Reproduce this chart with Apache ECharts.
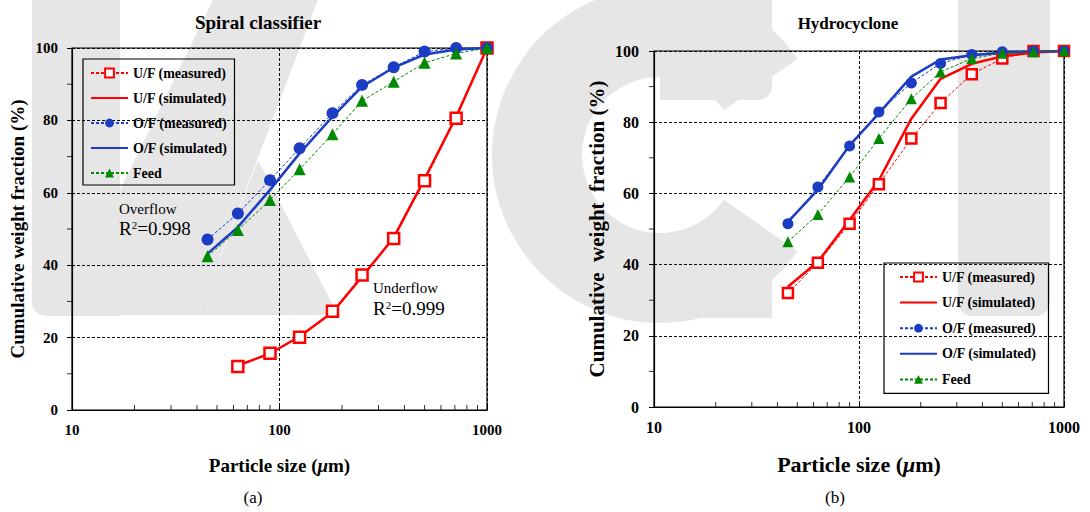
<!DOCTYPE html>
<html>
<head>
<meta charset="utf-8">
<script src="https://cdn.jsdelivr.net/npm/echarts@6/dist/echarts.min.js"></script>
<style>
html,body{margin:0;padding:0;background:#fff;}
#c{width:1090px;height:512px;}
</style>
</head>
<body>
<div id="c"></div>
<script>
// ---- data ----
const sizes = [45, 63, 90, 125, 180, 250, 355, 500, 710, 1000];
const xMinorTickValues = [20, 30, 40, 50, 60, 70, 80, 90, 200, 300, 400, 500, 600, 700, 800, 900];
const yMinorTickValues = [10, 30, 50, 70, 90];
const seriesNames = ['U/F (measured)', 'U/F (simulated)', 'O/F (measured)', 'O/F (simulated)', 'Feed'];

// (a) Spiral classifier
const scUFmeas = [null, 12.0, 15.7, 20.1, 27.3, 37.3, 47.4, 63.3, 80.6, 100];
const scUFsim  = [null, 12.3, 15.6, 20.3, 27.0, 36.8, 47.6, 63.8, 81.0, 100];
const scOFmeas = [47.1, 54.3, 63.5, 72.3, 82.0, 89.8, 94.7, 99.0, 100, 100];
const scOFsim  = [43.2, 50.5, 60.8, 70.9, 81.0, 89.3, 94.6, 98.2, 99.6, 100];
const scFeed   = [42.5, 49.7, 58.0, 66.5, 76.2, 85.4, 90.7, 95.9, 98.5, 100];

// (b) Hydrocyclone
const hcUFmeas = [32.0, 40.5, 51.5, 62.6, 75.4, 85.4, 93.5, 97.9, 100, 100];
const hcUFsim  = [33.8, 40.8, 52.5, 63.7, 81.0, 92.2, 96.4, 98.5, 99.6, 100];
const hcOFmeas = [51.5, 61.8, 73.3, 82.9, 91.0, 96.5, 99.0, 99.8, 100, 100];
const hcOFsim  = [52.0, 61.0, 73.5, 82.5, 92.8, 97.6, 98.8, 99.5, 99.8, 100];
const hcFeed   = [46.4, 54.1, 64.6, 75.4, 86.6, 94.1, 97.9, 99.4, 99.8, 100];

// ---- styling ----
const SERIF = '"Liberation Serif", "DejaVu Serif", serif';
const RED = '#ff0000', BLUE = '#1c3cc4', GREEN = '#008a00';
const WM = '#e6e6e6';   // light grey background watermark

function pairs(vals) {
  const out = [];
  vals.forEach((v, i) => { if (v !== null) out.push([sizes[i], v]); });
  return out;
}

function makeSeries(idx, d, msize) {
  const common = { xAxisIndex: idx, yAxisIndex: idx, clip: false, animation: false };
  return [
    Object.assign({}, common, {
      name: seriesNames[0], type: 'line', data: pairs(d[0]),
      symbol: 'rect', symbolSize: msize - 1,
      lineStyle: { color: RED, width: 1, type: [3, 2] },
      itemStyle: { color: '#fff', borderColor: RED, borderWidth: 2.5 }, z: 3
    }),
    Object.assign({}, common, {
      name: seriesNames[1], type: 'line', data: pairs(d[1]),
      symbol: 'none', showSymbol: false,
      lineStyle: { color: RED, width: 2.5, type: 'solid' },
      itemStyle: { color: RED }, z: 2
    }),
    Object.assign({}, common, {
      name: seriesNames[2], type: 'line', data: pairs(d[2]),
      symbol: 'circle', symbolSize: msize,
      lineStyle: { color: BLUE, width: 1, type: [3, 2] },
      itemStyle: { color: BLUE }, z: 3
    }),
    Object.assign({}, common, {
      name: seriesNames[3], type: 'line', data: pairs(d[3]),
      symbol: 'none', showSymbol: false,
      lineStyle: { color: BLUE, width: 2.5, type: 'solid' },
      itemStyle: { color: BLUE }, z: 2
    }),
    Object.assign({}, common, {
      name: seriesNames[4], type: 'line', data: pairs(d[4]),
      symbol: 'triangle', symbolSize: msize,
      lineStyle: { color: GREEN, width: 1, type: [3, 2] },
      itemStyle: { color: GREEN }, z: 3
    }),
    // minor ticks of the log x axis (inside, pointing up)
    Object.assign({}, common, {
      name: 'xminor' + idx, type: 'scatter', silent: true, z: 1,
      data: xMinorTickValues.map(v => [v, 0]),
      symbol: 'rect', symbolSize: [1, 5], symbolOffset: [0, -2.5],
      itemStyle: { color: '#000' }
    }),
    // minor ticks of the y axis (outside, pointing left)
    Object.assign({}, common, {
      name: 'yminor' + idx, type: 'scatter', silent: true, z: 1,
      data: yMinorTickValues.map(v => [10, v]),
      symbol: 'rect', symbolSize: [5, 1], symbolOffset: [-2.5, 0],
      itemStyle: { color: '#000' }
    })
  ];
}

function xAxisCfg(idx, labelSize, nameSize, gap) {
  return {
    type: 'log', logBase: 10, min: 10, max: 1000, gridIndex: idx,
    name: 'Particle size ({i|μ}m)', nameLocation: 'middle', nameGap: gap,
    nameTextStyle: { fontFamily: SERIF, fontWeight: 'bold', fontSize: nameSize, color: '#000',
      rich: { i: { fontFamily: SERIF, fontWeight: 'bold', fontStyle: 'italic', fontSize: nameSize, color: '#000' } } },
    axisLine: { show: true, lineStyle: { color: '#000', width: 1.2 } },
    axisTick: { show: true, inside: true, length: 5, lineStyle: { color: '#000' } },
    axisLabel: { fontFamily: SERIF, fontWeight: 'bold', fontSize: labelSize, color: '#000', margin: 12,
      formatter: function (v) { return String(Math.round(v)); } },
    splitLine: { show: true, lineStyle: { color: '#000', width: 1, type: [3, 2] } }
  };
}

function yAxisCfg(idx, labelSize, name, nameSize, gap, margin) {
  return {
    type: 'value', min: 0, max: 100, interval: 20, gridIndex: idx,
    name: name, nameLocation: 'middle', nameGap: gap,
    nameTextStyle: { fontFamily: SERIF, fontWeight: 'bold', fontSize: nameSize, color: '#000' },
    axisLine: { show: true, lineStyle: { color: '#000', width: 1.2 } },
    axisTick: { show: true, inside: false, length: 5, lineStyle: { color: '#000' } },
    axisLabel: { fontFamily: SERIF, fontWeight: 'bold', fontSize: labelSize, color: '#000', margin: margin },
    splitLine: { show: true, lineStyle: { color: '#000', width: 1, type: [3, 2] } }
  };
}

function legendCfg(left, top, padding, gap) {
  return {
    orient: 'vertical', left: left, top: top, padding: padding,
    itemWidth: 37, itemHeight: 11, itemGap: gap,
    borderColor: '#000', borderWidth: 1.2, backgroundColor: 'transparent',
    data: seriesNames.map(function (n, i) {
      return (i === 1 || i === 3) ? { name: n, itemStyle: { opacity: 0 } } : { name: n };
    }),
    textStyle: { fontFamily: SERIF, fontWeight: 'bold', fontSize: 14, color: '#000' }
  };
}

const R2rich = {
  n: { fontFamily: SERIF, fontSize: 19, fill: '#000' },
  s: { fontFamily: SERIF, fontSize: 11, fill: '#000', verticalAlign: 'top', padding: [0, 0, 8, 0] }
};

// faint "KCI" watermark behind the charts
const watermark = [
  { type: 'rect', z: -10, shape: { x: 32, y: -20, width: 88, height: 336, r: [0, 0, 0, 14] }, style: { fill: WM } },
  { type: 'polygon', z: -10, shape: { points: [[213, 0], [318, 0], [198, 315], [120, 315], [120, 190]] }, style: { fill: WM } },
  { type: 'polygon', z: -10, shape: { points: [[258, 160], [338, 315], [198, 315]] }, style: { fill: WM } },
  { type: 'sector', z: -10, shape: { cx: 660, cy: 155, r: 168, r0: 78, startAngle: 35 * Math.PI / 180, endAngle: 325 * Math.PI / 180, clockwise: true }, style: { fill: WM } },
  { type: 'rect', z: -10, shape: { x: 660, y: -5, width: 112, height: 105, r: [0, 0, 14, 0] }, style: { fill: WM } },
  { type: 'rect', z: -10, shape: { x: 660, y: 242, width: 112, height: 76, r: [14, 0, 0, 0] }, style: { fill: WM } },
  { type: 'rect', z: -10, shape: { x: 958, y: -20, width: 92, height: 336, r: [0, 0, 14, 14] }, style: { fill: WM } }
];

const option = {
  backgroundColor: '#fff',
  animation: false,
  grid: [
    { left: 72, right: 603, top: 48, bottom: 102, show: true, borderColor: '#000', borderWidth: 1.2, backgroundColor: 'transparent' },
    { left: 654, right: 26, top: 51, bottom: 105, show: true, borderColor: '#000', borderWidth: 1.2, backgroundColor: 'transparent' }
  ],
  title: [
    { text: 'Spiral classifier', left: 253, top: 8, textAlign: 'center',
      textStyle: { fontFamily: SERIF, fontWeight: 'bold', fontSize: 19, color: '#000' } },
    { text: 'Hydrocyclone', left: 843, top: 10, textAlign: 'center',
      textStyle: { fontFamily: SERIF, fontWeight: 'bold', fontSize: 17, color: '#000' } }
  ],
  legend: [
    legendCfg(83, 59, [7, 7, 5, 7], 11),
    legendCfg(884, 263, [7, 12, 7, 15], 11.6)
  ],
  xAxis: [ xAxisCfg(0, 15, 19, 46), xAxisCfg(1, 16, 22, 46) ],
  yAxis: [
    yAxisCfg(0, 15, 'Cumulative weight fraction (%)', 19, 45, 14),
    yAxisCfg(1, 16, 'Cumulative  weight  fraction (%)', 21, 47, 15)
  ],
  series: [].concat(
    makeSeries(0, [scUFmeas, scUFsim, scOFmeas, scOFsim, scFeed], 12),
    makeSeries(1, [hcUFmeas, hcUFsim, hcOFmeas, hcOFsim, hcFeed], 11)
  ),
  graphic: watermark.concat([
    { type: 'text', left: 119, top: 201, style: { text: 'Overflow', font: '15px ' + SERIF, fill: '#000' } },
    { type: 'text', left: 119, top: 219, style: { text: '{n|R}{s|2}{n|=0.998}', rich: R2rich } },
    { type: 'text', left: 373, top: 280, style: { text: 'Underflow', font: '15px ' + SERIF, fill: '#000' } },
    { type: 'text', left: 373, top: 299, style: { text: '{n|R}{s|2}{n|=0.999}', rich: R2rich } },
    { type: 'text', x: 253, y: 497, style: { text: '(a)', font: '17px ' + SERIF, fill: '#000', align: 'center', verticalAlign: 'middle' } },
    { type: 'text', x: 835, y: 497, style: { text: '(b)', font: '17px ' + SERIF, fill: '#000', align: 'center', verticalAlign: 'middle' } }
  ])
};

const chart = echarts.init(document.getElementById('c'), null, { renderer: 'svg', width: 1090, height: 512 });
chart.setOption(option);
</script>
</body>
</html>
